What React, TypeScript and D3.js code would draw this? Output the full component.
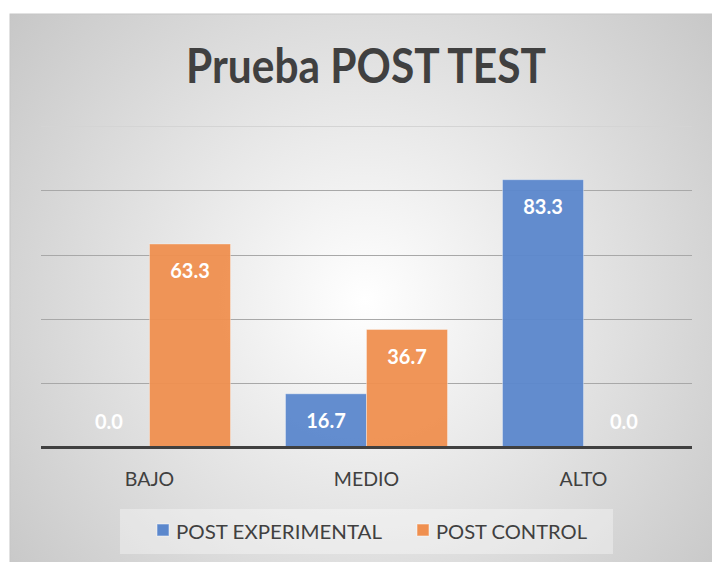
import * as d3 from "d3";

const categories = ["BAJO", "MEDIO", "ALTO"];
const seriesNames = ["POST EXPERIMENTAL", "POST CONTROL"];
const postExperimental = [0.0, 16.7, 83.3];
const postControl = [63.3, 36.7, 0.0];
const yTicks = [20, 40, 60, 80, 100];

const colors = ["#5b87cc", "#ef8f4f"];
const FONT = "Lato, 'Open Sans', sans-serif";

export default function App() {
  const width = 712;
  const height = 562;

  const x = d3.scaleBand<string>().domain(categories).range([41, 692]).paddingInner(0).paddingOuter(0);
  const inner = d3
    .scaleBand<string>()
    .domain(seriesNames)
    .range([x.bandwidth() / 2 - 81, x.bandwidth() / 2 + 81]);
  const y = d3.scaleLinear().domain([0, 100]).range([447.5, 126]);

  const series = [postExperimental, postControl];
  const legendLen = [206, 151];

  return (
    <svg width={width} height={height} style={{ position: "absolute", left: 0, top: 0 }}>
      <defs>
        <radialGradient id="bg" gradientUnits="userSpaceOnUse" cx={365} cy={300} r={480}>
          <stop offset="0" stopColor="#ffffff" />
          <stop offset="1" stopColor="#c4c4c4" />
        </radialGradient>
      </defs>
      <rect x={10} y={14} width={720} height={560} fill="url(#bg)" stroke="#c6c6c6" />

      <text
        x={366}
        y={83}
        textAnchor="middle"
        fontFamily={FONT}
        fontWeight="bold"
        fontSize={47}
        fill="#404040"
        textLength={360}
        lengthAdjust="spacingAndGlyphs"
      >
        Prueba POST TEST
      </text>

      {yTicks.map((t) => (
        <line
          key={t}
          x1={41}
          x2={692}
          y1={Math.round(y(t)) + 0.5}
          y2={Math.round(y(t)) + 0.5}
          stroke={t === 100 ? "#d4d4d4" : "#a8a8a8"}
          strokeWidth={1}
        />
      ))}

      {categories.map((c, ci) =>
        seriesNames.map((s, si) => {
          const v = series[si][ci];
          const bx = (x(c) ?? 0) + (inner(s) ?? 0);
          const top = y(v);
          const bw = inner.bandwidth();
          return (
            <g key={c + s}>
              {v > 0 && (
                <rect
                  x={bx}
                  y={top}
                  width={bw}
                  height={y(0) - top}
                  fill={colors[si]}
                  fillOpacity={0.95}
                  stroke="#ffffff"
                  strokeOpacity={0.35}
                  strokeWidth={1}
                />
              )}
              <text
                x={bx + bw / 2}
                y={Math.min(top + 34.5, y(0) - 19)}
                textAnchor="middle"
                fontFamily={FONT}
                fontWeight="bold"
                fontSize={20}
                fill="#ffffff"
              >
                {v.toFixed(1)}
              </text>
            </g>
          );
        })
      )}

      <line x1={41} x2={692} y1={y(0)} y2={y(0)} stroke="#404040" strokeWidth={3} />

      {categories.map((c) => (
        <text
          key={c}
          x={(x(c) ?? 0) + x.bandwidth() / 2}
          y={486}
          textAnchor="middle"
          fontFamily={FONT}
          fontSize={19.5}
          fill="#404040"
        >
          {c}
        </text>
      ))}

      <rect x={120} y={509} width={493} height={45} fill="#ffffff" fillOpacity={0.35} />
      {seriesNames.map((s, i) => {
        const lx = [157, 417][i];
        return (
          <g key={s}>
            <rect x={lx} y={524} width={12} height={12} fill={colors[i]} stroke="#ffffff" strokeOpacity={0.5} />
            <text
              x={lx + 19}
              y={538.5}
              fontFamily={FONT}
              fontSize={20}
              fill="#404040"
              textLength={legendLen[i]}
              lengthAdjust="spacingAndGlyphs"
            >
              {s}
            </text>
          </g>
        );
      })}
    </svg>
  );
}
